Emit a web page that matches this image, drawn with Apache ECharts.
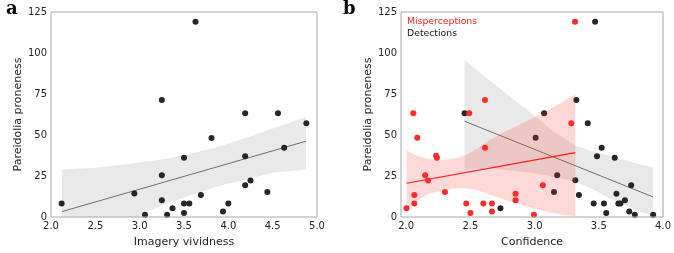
<!DOCTYPE html>
<html><head><meta charset="utf-8">
<script src="https://cdn.jsdelivr.net/npm/echarts@6/dist/echarts.min.js"></script>
<style>html,body{margin:0;padding:0;background:#fff}#c{width:674px;height:253px}</style>
</head><body><div id="c"></div>
<script>
// ---- data ----
const yTicks = [0, 25, 50, 75, 100, 125];
const aTicks = [2.0, 2.5, 3.0, 3.5, 4.0, 4.5, 5.0];
const bTicks = [2.0, 2.5, 3.0, 3.5, 4.0];

// Panel a: imagery vividness vs pareidolia proneness
const aX = [2.12, 2.94, 3.06, 3.25, 3.25, 3.25, 3.31, 3.37, 3.50, 3.50, 3.50, 3.56, 3.63, 3.69, 3.81, 3.94, 4.00, 4.19, 4.19, 4.19, 4.25, 4.44, 4.56, 4.63, 4.88];
const aY = [8.3, 14.3, 1.4, 71.3, 25.4, 10.2, 1.4, 5.3, 8.3, 2.4, 36.2, 8.3, 119.1, 13.4, 48.2, 3.3, 8.3, 63.3, 37.1, 19.3, 22.2, 15.3, 63.3, 42.3, 57.2];
const aFitX = [2.124, 4.876];
const aFitY = [3.3, 46.2];
const aBandX  = [2.124, 2.5, 2.93, 3.25, 3.53, 3.9, 4.21, 4.5, 4.876];
const aBandUp = [29, 30, 32.8, 35, 38, 43, 48.5, 54, 61];
const aBandLo = [-22.4, -11.6, -1, 7, 12.5, 19, 23, 27, 29];

// Panel b: confidence vs pareidolia proneness
const redX = [2.003, 2.056, 2.064, 2.064, 2.087, 2.148, 2.171, 2.233, 2.240, 2.302, 2.468, 2.491, 2.501, 2.601, 2.614, 2.614, 2.668, 2.668, 2.852, 2.852, 2.995, 3.064, 3.286, 3.315];
const redY = [5.3, 63.3, 8.3, 13.4, 48.3, 25.4, 22.2, 37.3, 36.2, 15.3, 8.3, 63.3, 2.4, 8.3, 71.3, 42.3, 8.3, 3.3, 14.2, 10.2, 1.4, 19.3, 57.2, 119.1];
const darkX = [2.455, 2.734, 3.008, 3.074, 3.151, 3.176, 3.317, 3.325, 3.345, 3.414, 3.460, 3.471, 3.486, 3.522, 3.540, 3.558, 3.624, 3.637, 3.652, 3.668, 3.703, 3.737, 3.752, 3.780, 3.923];
const darkY = [63.3, 5.3, 48.3, 63.3, 15.3, 25.4, 22.4, 71.3, 13.4, 57.2, 8.3, 119.1, 37.1, 42.3, 8.3, 2.4, 36.2, 14.2, 8.3, 8.3, 10.2, 3.3, 19.3, 1.4, 1.4];
const redFitX = [2.003, 3.317];
const redFitY = [20.6, 39.3];
const redBandX  = [2.003, 2.08, 2.16, 2.29, 2.40, 2.47, 2.55, 2.62, 2.73, 2.85, 2.98, 3.1, 3.2, 3.317];
const redBandUp = [40.5, 37.5, 35.5, 34.8, 36, 38, 41.5, 45.6, 50.5, 55, 60, 65, 69.5, 74.7];
const redBandLo = [4.5, 9.5, 13.5, 16.5, 17.5, 17.5, 16.5, 14.5, 11.5, 8.5, 5.5, 3, 1.5, 0.5];
const darkFitX = [2.455, 3.923];
const darkFitY = [58.4, 12.2];
const darkBandX  = [2.455, 2.6, 2.8, 2.976, 3.15, 3.317, 3.45, 3.616, 3.8, 3.923];
const darkBandUp = [95.7, 86.5, 74, 63.3, 52, 43.6, 40, 36.7, 32.5, 30.3];
const darkBandLo = [29, 29.5, 28.5, 27, 24.5, 21.5, 17, 10, 4, 0.5];

// ---- helpers ----
const zip = (xs, ys) => xs.map((x, i) => [x, ys[i]]);
const FONT = 'DejaVu Sans';
const TXT = '#262626';

function band(idx, xs, up, lo, color, z) {
  const poly = zip(xs, up).concat(zip(xs, lo).reverse());
  return {
    type: 'custom', xAxisIndex: idx, yAxisIndex: idx, clip: true, z: z, silent: true,
    data: [0],
    renderItem: function (params, api) {
      return {
        type: 'polygon',
        shape: { points: poly.map(p => api.coord(p)) },
        style: { fill: color }
      };
    }
  };
}
function fit(idx, xs, ys, color, width, z) {
  return { type: 'line', xAxisIndex: idx, yAxisIndex: idx, data: zip(xs, ys), showSymbol: false, symbol: 'none',
    lineStyle: { color: color, width: width }, z: z, silent: true, animation: false };
}
function pts(idx, xs, ys, color, z) {
  return { type: 'scatter', xAxisIndex: idx, yAxisIndex: idx, data: zip(xs, ys), symbolSize: 6,
    itemStyle: { color: color, opacity: 1 }, z: z, clip: false, silent: true };
}
function xAxis(idx, min, max, ticks, name) {
  return { type: 'value', gridIndex: idx, min: min, max: max,
    name: name, nameLocation: 'middle', nameGap: 20,
    nameTextStyle: { fontFamily: FONT, fontSize: 11, color: TXT },
    axisLine: { show: false }, axisTick: { show: false }, splitLine: { show: false },
    axisLabel: { customValues: ticks, fontFamily: FONT, fontSize: 10, color: TXT, margin: 4,
      formatter: v => v.toFixed(1) } };
}
function yAxis(idx) {
  return { type: 'value', gridIndex: idx, min: 0, max: 125, interval: 25,
    name: 'Pareidolia proneness', nameLocation: 'middle', nameGap: 25,
    nameTextStyle: { fontFamily: FONT, fontSize: 11, color: TXT },
    axisLine: { show: false }, axisTick: { show: false }, splitLine: { show: false },
    axisLabel: { customValues: yTicks, fontFamily: FONT, fontSize: 10, color: TXT, margin: 4 } };
}

const chart = echarts.init(document.getElementById('c'), null, { renderer: 'canvas' });
chart.setOption({
  animation: false,
  backgroundColor: '#fff',
  grid: [
    { left: 51, top: 12, width: 266, height: 212, show: true, borderColor: '#a8a8a8', borderWidth: 1, backgroundColor: 'transparent', z: 10 },
    { left: 401, top: 12, width: 266, height: 212, show: true, borderColor: '#a8a8a8', borderWidth: 1, backgroundColor: 'transparent', z: 10 }
  ],
  xAxis: [xAxis(0, 2, 5, aTicks, 'Imagery vividness'), xAxis(1, 1.96, 4.0, bTicks, 'Confidence')],
  yAxis: [yAxis(0), yAxis(1)],
  graphic: [
    { type: 'text', left: 6, top: 0, style: { text: 'a', font: 'bold 18px "DejaVu Serif"', fill: '#000' } },
    { type: 'text', left: 343, top: 0, style: { text: 'b', font: 'bold 18px "DejaVu Serif"', fill: '#000' } },
    { type: 'text', left: 407, top: 17, style: { text: 'Misperceptions', font: '9.3px "DejaVu Sans"', fill: '#ff2020' } },
    { type: 'text', left: 407, top: 29, style: { text: 'Detections', font: '9.3px "DejaVu Sans"', fill: '#1a1a1a' } }
  ],
  series: [
    band(0, aBandX, aBandUp, aBandLo, 'rgba(200,200,200,0.4)', 1),
    fit(0, aFitX, aFitY, '#707070', 1, 2),
    pts(0, aX, aY, '#262626', 3),

    band(1, darkBandX, darkBandUp, darkBandLo, 'rgba(200,200,200,0.4)', 1),
    fit(1, darkFitX, darkFitY, '#707070', 1, 2),
    pts(1, darkX, darkY, '#262626', 3),
    band(1, redBandX, redBandUp, redBandLo, 'rgba(255,60,60,0.2)', 4),
    fit(1, redFitX, redFitY, '#ff1a1a', 1.2, 5),
    pts(1, redX, redY, '#ff2a2a', 6)
  ]
});
</script>
</body></html>
